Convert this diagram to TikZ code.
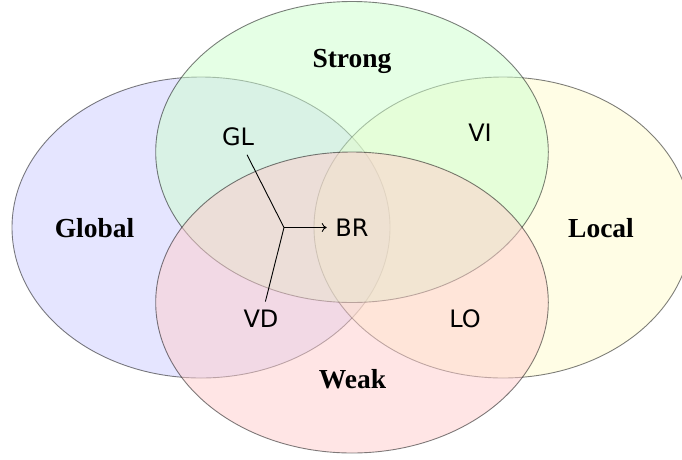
\documentclass[tikz,border=0pt]{standalone}
\usepackage{fontspec}
\usetikzlibrary{arrows.meta}
\setmainfont{Liberation Serif}
\newfontfamily\lblsans{DejaVu Sans}
\begin{document}
\begin{tikzpicture}[x=1pt,y=-1pt,
  setell/.style={draw=black, line width=0.9pt, opacity=0.5},
  setlbl/.style={font=\fontsize{27.5}{32}\selectfont\bfseries, anchor=base, inner sep=0pt},
  elem/.style={font=\lblsans\fontsize{24}{28}\selectfont, inner sep=8.5pt, anchor=center},
  conn/.style={line width=0.9pt}
]
\useasboundingbox (0,0) rectangle (682,459);
\draw[setell, fill=blue!20] (201,227.5) ellipse [x radius=189, y radius=150.5];
\draw[setell, fill=yellow!20] (503,227.5) ellipse [x radius=189, y radius=150.5];
\draw[setell, fill=green!20] (352,152) ellipse [x radius=196.3, y radius=150.5];
\draw[setell, fill=red!20] (352,302.5) ellipse [x radius=196.3, y radius=150.5];

\node[setlbl] (strong) at (352,67) {Strong};
\node[setlbl] (global) at (94.5,237.5) {Global};
\node[setlbl] (local) at (601,237.5) {Local};
\node[setlbl] (weak) at (352.5,388) {Weak};

\node[elem] (GL) at (238,137) {GL};
\node[elem] (VI) at (480,132.5) {VI};
\node[elem] (BR) at (352,227.5) {BR};
\node[elem] (VD) at (261,319) {VD};
\node[elem] (LO) at (465,319) {LO};

\coordinate (J) at (284,227.5);
\draw[conn] (GL) -- (J);
\draw[conn] (VD) -- (J);
\draw[conn,-{To[length=5pt,width=9pt]}] (J) -- (BR);
\end{tikzpicture}
\end{document}
